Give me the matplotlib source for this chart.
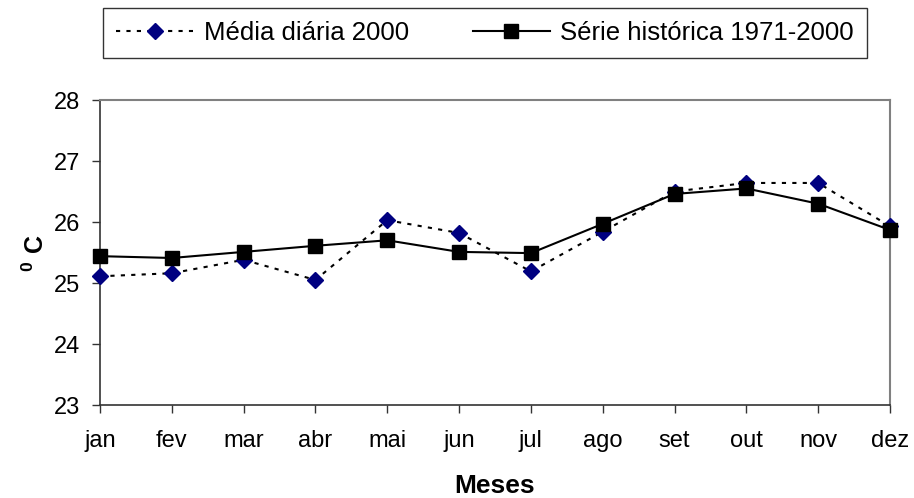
import matplotlib.pyplot as plt

plt.rcParams['font.family'] = ['Liberation Sans', 'DejaVu Sans']
plt.rcParams['mathtext.fontset'] = 'custom'
plt.rcParams['mathtext.rm'] = 'Liberation Sans'
plt.rcParams['mathtext.bf'] = 'Liberation Sans:bold'

meses = ['jan', 'fev', 'mar', 'abr', 'mai', 'jun', 'jul', 'ago', 'set', 'out', 'nov', 'dez']
media_2000 = [25.11, 25.16, 25.38, 25.05, 26.03, 25.82, 25.19, 25.84, 26.50, 26.64, 26.64, 25.93]
serie_historica = [25.44, 25.41, 25.51, 25.61, 25.70, 25.51, 25.49, 25.97, 26.46, 26.55, 26.30, 25.87]
y_ticks = [23, 24, 25, 26, 27, 28]

fig = plt.figure(figsize=(9.14, 4.98), dpi=100)
ax = fig.add_axes([100 / 914, 93 / 498, 790 / 914, 305 / 498])

x = range(len(meses))
ax.plot(x, media_2000, linestyle=(0, (2, 3)), color='black', linewidth=1.5,
        marker='D', markersize=8, markerfacecolor='#000080', markeredgecolor='#000080',
        label='Média diária 2000', clip_on=False, zorder=3)
ax.plot(x, serie_historica, linestyle='-', color='black', linewidth=1.5,
        marker='s', markersize=10, markerfacecolor='black', markeredgecolor='black',
        label='Série histórica 1971-2000', clip_on=False, zorder=4)

ax.set_xlim(0, len(meses) - 1)
ax.set_ylim(23, 28)
ax.set_xticks(list(x))
ax.set_xticklabels(meses)
ax.set_yticks(y_ticks)

for side in ['top', 'right']:
    ax.spines[side].set_color('#808080')
    ax.spines[side].set_linewidth(1.5)
for side in ['left', 'bottom']:
    ax.spines[side].set_color('#333333')
    ax.spines[side].set_linewidth(1.2)

ax.tick_params(axis='both', direction='out', length=6, width=1, color='#333333',
               labelsize=17, pad=8)
ax.tick_params(axis='x', pad=12)

ax.set_xlabel('Meses', fontsize=19, fontweight='bold', labelpad=16)
ax.set_ylabel(r'$\mathbf{^{0}\ C}$', fontsize=18, labelpad=4)

leg = fig.legend(loc='center', bbox_to_anchor=(485 / 914, 1 - 33 / 498), ncol=2,
                 fontsize=18.5, frameon=True, fancybox=False, edgecolor='black',
                 handlelength=3.0, handletextpad=0.4, columnspacing=2.5, borderpad=0.5)
leg.get_frame().set_linewidth(1.0)

fig.savefig('out.png', dpi=100)
